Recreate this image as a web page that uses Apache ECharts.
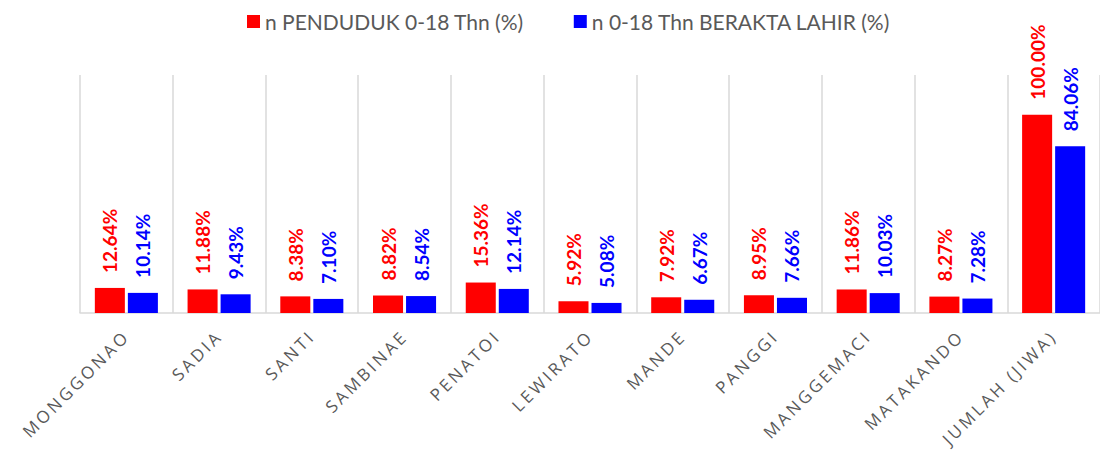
<!DOCTYPE html>
<html>
<head>
<meta charset="utf-8">
<script src="https://cdn.jsdelivr.net/npm/echarts@6/dist/echarts.min.js"></script>
<style>html,body{margin:0;padding:0;background:#fff}#c{width:1100px;height:463px}</style>
</head>
<body>
<div id="c"></div>
<script>
const categories = ['MONGGONAO','SADIA','SANTI','SAMBINAE','PENATOI','LEWIRATO','MANDE','PANGGI','MANGGEMACI','MATAKANDO','JUMLAH (JIWA)'];
const seriesNames = ['n PENDUDUK 0-18 Thn (%)','n 0-18 Thn BERAKTA LAHIR (%)'];
const penduduk = [12.64, 11.88, 8.38, 8.82, 15.36, 5.92, 7.92, 8.95, 11.86, 8.27, 100.00];
const berakta = [10.14, 9.43, 7.10, 8.54, 12.14, 5.08, 6.67, 7.66, 10.03, 7.28, 84.06];
const colors = ['#ff0000','#0000ff'];

const chart = echarts.init(document.getElementById('c'), null, {renderer: 'svg'});
function mk(name, data, color) {
  return {
    name: name, type: 'bar', data: data,
    itemStyle: {color: color},
    barGap: '10%', barCategoryGap: '32%',
    label: {
      show: true, position: 'top', rotate: 90, align: 'left', verticalAlign: 'middle',
      distance: 15, color: color, fontWeight: 'bold', fontSize: 19, fontFamily: 'Lato',
      formatter: p => p.value.toFixed(2) + '%'
    }
  };
}
chart.setOption({
  animation: false,
  color: colors,
  legend: {
    top: 6, left: 242, itemWidth: 13, itemHeight: 13, itemGap: 50,
    icon: 'rect',
    textStyle: {color: '#595959', fontSize: 21, fontFamily: 'Lato'}
  },
  grid: {left: 80, right: 0, top: 75, bottom: 150},
  xAxis: {
    type: 'category', data: categories,
    axisLine: {lineStyle: {color: '#d9d9d9', width: 1.5}},
    axisTick: {show: false},
    splitLine: {show: true, lineStyle: {color: '#d9d9d9', width: 1.5}},
    axisLabel: {rotate: 45, interval: 0, margin: 20, color: '#595959', fontSize: 17, fontFamily: 'Open Sans'}
  },
  yAxis: {
    type: 'value', min: 0, max: 120, show: false, splitLine: {show: false}
  },
  series: [mk(seriesNames[0], penduduk, colors[0]), mk(seriesNames[1], berakta, colors[1])]
});
function spaceLabels() {
  document.querySelectorAll('#c svg text').forEach(t => {
    if (categories.includes(t.textContent)) t.setAttribute('letter-spacing', '3');
  });
}
spaceLabels();
chart.on('finished', spaceLabels);
</script>
</body>
</html>
